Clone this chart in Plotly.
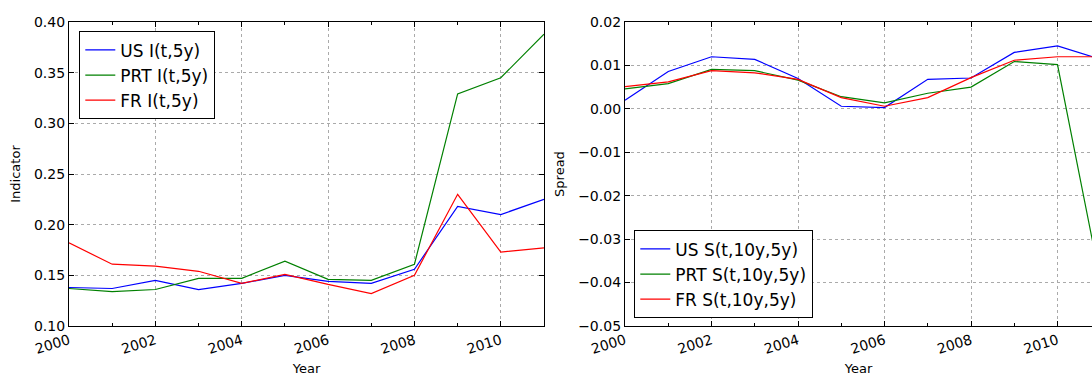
import plotly.graph_objects as go

years = list(range(2000, 2012))

us_ind = [0.138, 0.137, 0.145, 0.136, 0.142, 0.150, 0.144, 0.142, 0.156, 0.218, 0.210, 0.225]
prt_ind = [0.137, 0.134, 0.136, 0.147, 0.147, 0.164, 0.146, 0.145, 0.161, 0.329, 0.345, 0.388]
fr_ind = [0.182, 0.161, 0.159, 0.154, 0.142, 0.151, 0.141, 0.132, 0.150, 0.230, 0.173, 0.177]

us_spr = [0.0020, 0.0086, 0.0120, 0.0114, 0.0070, 0.0006, 0.0003, 0.0068, 0.0071, 0.0130, 0.0145, 0.0114]
prt_spr = [0.0046, 0.0058, 0.0091, 0.0088, 0.0066, 0.0028, 0.0014, 0.0036, 0.0050, 0.0109, 0.0102, -0.0400]
fr_spr = [0.0051, 0.0062, 0.0088, 0.0083, 0.0068, 0.0026, 0.0006, 0.0026, 0.0072, 0.0112, 0.0120, 0.0120]

left_names = ["US I(t,5y)", "PRT I(t,5y)", "FR I(t,5y)"]
right_names = ["US S(t,10y,5y)", "PRT S(t,10y,5y)", "FR S(t,10y,5y)"]
colors = ["#0000ff", "#008000", "#ff0000"]

x_tickvals = [2000, 2002, 2004, 2006, 2008, 2010]
x_ticktext = ["2000", "2002", "2004", "2006", "2008", "2010"]

FONT = "DejaVu Sans"

fig = go.Figure()
for name, vals, c in zip(left_names, [us_ind, prt_ind, fr_ind], colors):
    fig.add_trace(go.Scatter(x=years, y=vals, mode="lines", name=name,
                             line=dict(color=c, width=1.2), xaxis="x", yaxis="y",
                             legend="legend"))
for name, vals, c in zip(right_names, [us_spr, prt_spr, fr_spr], colors):
    fig.add_trace(go.Scatter(x=years, y=vals, mode="lines", name=name,
                             line=dict(color=c, width=1.2), xaxis="x2", yaxis="y2",
                             legend="legend2"))

common_x = dict(
    tickmode="array", tickvals=x_tickvals, ticktext=x_ticktext,
    tickangle=-17, ticks="inside", ticklen=5, tickcolor="black",
    showline=True, linecolor="black", linewidth=1.3, mirror="ticks",
    showgrid=True, gridcolor="#aaaaaa", griddash="dot", gridwidth=1,
    zeroline=False, automargin=False,
    minor=dict(dtick=1, tick0=2000, ticks="inside", ticklen=3, tickcolor="black", showgrid=False),
    tickfont=dict(family=FONT, size=14, color="black"),
    title=dict(text="Year", font=dict(family=FONT, size=13, color="black"), standoff=14),
)
common_y = dict(
    ticks="inside", ticklen=5, tickcolor="black",
    showline=True, linecolor="black", linewidth=1.3,
    showgrid=True, gridcolor="#aaaaaa", griddash="dot", gridwidth=1,
    zeroline=False, tickformat=".2f", automargin=False,
    tickfont=dict(family=FONT, size=14, color="black"),
)

fig.update_layout(
    width=1092, height=376,
    margin=dict(l=0, r=0, t=22, b=50),
    paper_bgcolor="white", plot_bgcolor="white",
    font=dict(family=FONT, color="black"),
    xaxis=dict(domain=[69 / 1092, 544 / 1092], range=[2000, 2011], anchor="y", **common_x),
    yaxis=dict(range=[0.10, 0.40], dtick=0.05, anchor="x", mirror="ticks",
               title=dict(text="Indicator", font=dict(family=FONT, size=13, color="black"), standoff=10),
               **common_y),
    xaxis2=dict(domain=[625 / 1092, 1.0], range=[2000, 2000 + 467 / 43.25], anchor="y2", **common_x),
    yaxis2=dict(range=[-0.05, 0.02], dtick=0.01, anchor="x2", mirror=False,
                title=dict(text="Spread", font=dict(family=FONT, size=13, color="black"), standoff=10),
                **common_y),
    legend=dict(x=79 / 1092, y=0.97, xanchor="left", yanchor="top",
                bgcolor="white", bordercolor="black", borderwidth=1.3,
                font=dict(family=FONT, size=17, color="black")),
    legend2=dict(x=634 / 1092, y=0.026, xanchor="left", yanchor="bottom",
                 bgcolor="white", bordercolor="black", borderwidth=1.3,
                 font=dict(family=FONT, size=17, color="black")),
    showlegend=True,
)

fig.write_html("out.html")
